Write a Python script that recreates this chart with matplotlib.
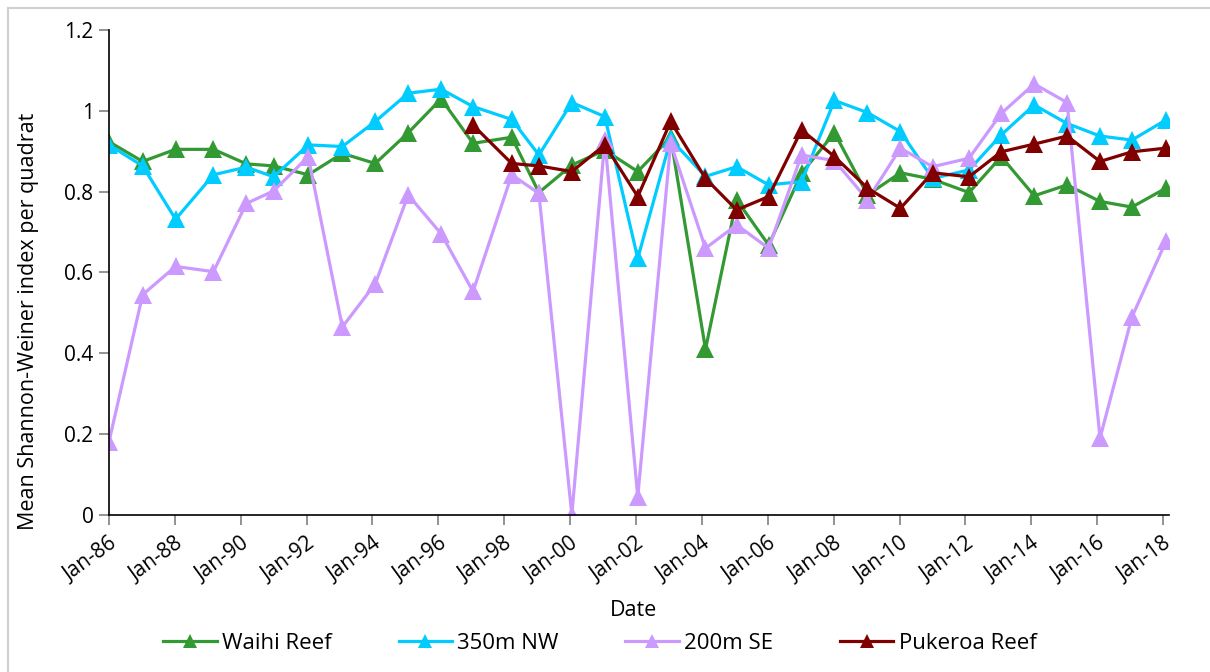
import numpy as np
import pandas as pd
import matplotlib
matplotlib.use('Agg')
import matplotlib.pyplot as plt
import matplotlib.dates as mdates
from matplotlib.lines import Line2D

plt.rcParams['font.family'] = ['Open Sans', 'DejaVu Sans']

# survey dates (roughly once a year)
dates = pd.to_datetime([
    '1986-01-01', '1987-01-10', '1988-01-10', '1989-03-05', '1990-03-05',
    '1991-01-01', '1992-01-20', '1993-02-01', '1994-02-01', '1995-02-01',
    '1996-02-01', '1997-01-20', '1998-03-25', '1999-01-20', '2000-01-20',
    '2001-01-20', '2002-01-20', '2003-01-20', '2004-02-10', '2005-01-20',
    '2006-01-10', '2007-01-10', '2008-01-10', '2009-01-10', '2010-01-10',
    '2011-01-01', '2012-02-10', '2013-02-01', '2014-02-01', '2015-02-01',
    '2016-02-01', '2017-01-20', '2018-02-01'])

waihi = [0.924, 0.875, 0.905, 0.905, 0.869, 0.864, 0.842, 0.895, 0.870, 0.946,
         1.030, 0.920, 0.935, 0.798, 0.866, 0.903, 0.850, 0.935, 0.410, 0.780,
         0.668, 0.846, 0.946, 0.792, 0.847, 0.831, 0.798, 0.887, 0.790, 0.817,
         0.776, 0.762, 0.809]
nw350 = [0.916, 0.864, 0.732, 0.842, 0.861, 0.837, 0.916, 0.912, 0.974, 1.044,
         1.054, 1.011, 0.979, 0.891, 1.021, 0.986, 0.635, 0.930, 0.838, 0.862,
         0.817, 0.825, 1.026, 0.996, 0.949, 0.833, 0.854, 0.941, 1.015, 0.969,
         0.938, 0.928, 0.978]
se200 = [0.180, 0.545, 0.615, 0.602, 0.771, 0.802, 0.887, 0.465, 0.572, 0.792,
         0.696, 0.553, 0.842, 0.796, 0.000, 0.928, 0.045, 0.920, 0.660, 0.718,
         0.660, 0.891, 0.877, 0.780, 0.908, 0.862, 0.883, 0.994, 1.067, 1.021,
         0.190, 0.490, 0.677]
pukeroa = [np.nan] * 11 + [
         0.965, 0.870, 0.864, 0.850, 0.916, 0.788, 0.974, 0.833, 0.755, 0.788,
         0.953, 0.887, 0.809, 0.759, 0.847, 0.837, 0.899, 0.918, 0.938, 0.875,
         0.899, 0.908]

series = [
    ('Waihi Reef', waihi, '#339933'),
    ('350m NW', nw350, '#00CCFF'),
    ('200m SE', se200, '#CC99FF'),
    ('Pukeroa Reef', pukeroa, '#800000'),
]

fig = plt.figure(figsize=(12.1, 6.72), dpi=100)
ax = fig.add_axes([0.090, 0.234, 0.876, 0.721])

for name, vals, col in series:
    ax.plot(dates, vals, color=col, lw=2.3, marker='^', ms=13,
            markeredgewidth=0, label=name)

ax.set_ylim(0, 1.2)
ax.set_yticks(np.arange(0, 1.21, 0.2))
ax.set_yticklabels(['0', '0.2', '0.4', '0.6', '0.8', '1', '1.2'])
ax.set_xlim(pd.Timestamp('1986-01-01'), pd.Timestamp('2018-03-05'))
ax.xaxis.set_major_locator(mdates.YearLocator(2))
ax.xaxis.set_major_formatter(mdates.DateFormatter('%b-%y'))
plt.setp(ax.get_xticklabels(), rotation=36, ha='right', rotation_mode='anchor')

for s in ['top', 'right']:
    ax.spines[s].set_visible(False)
for s in ['left', 'bottom']:
    ax.spines[s].set_color('black')
    ax.spines[s].set_linewidth(1.2)
ax.tick_params(axis='both', direction='out', length=7, width=1.2,
               color='#808080', labelsize=15, pad=4)
ax.tick_params(axis='x', pad=6)
ax.set_xlabel('Date', fontsize=15.5)
ax.xaxis.set_label_coords(0.495, -0.175)
ax.set_ylabel('Mean Shannon-Weiner index per quadrat', fontsize=15.5)
ax.yaxis.set_label_coords(-0.066, 0.40)

fig.legend(loc='center', bbox_to_anchor=(600 / 1210, 0.043), ncol=4, frameon=False,
           fontsize=16, handlelength=2.4, columnspacing=3.0, handletextpad=0.25,
           markerscale=0.8)

# light grey chart border (left and top edges are visible)
fig.add_artist(Line2D([8 / 1210, 8 / 1210], [0, 1 - 8 / 672], transform=fig.transFigure,
                      color='#D0D0D0', lw=1.5))
fig.add_artist(Line2D([8 / 1210, 1], [1 - 8 / 672, 1 - 8 / 672], transform=fig.transFigure,
                      color='#D0D0D0', lw=1.5))

plt.savefig('out.png', dpi=100)
